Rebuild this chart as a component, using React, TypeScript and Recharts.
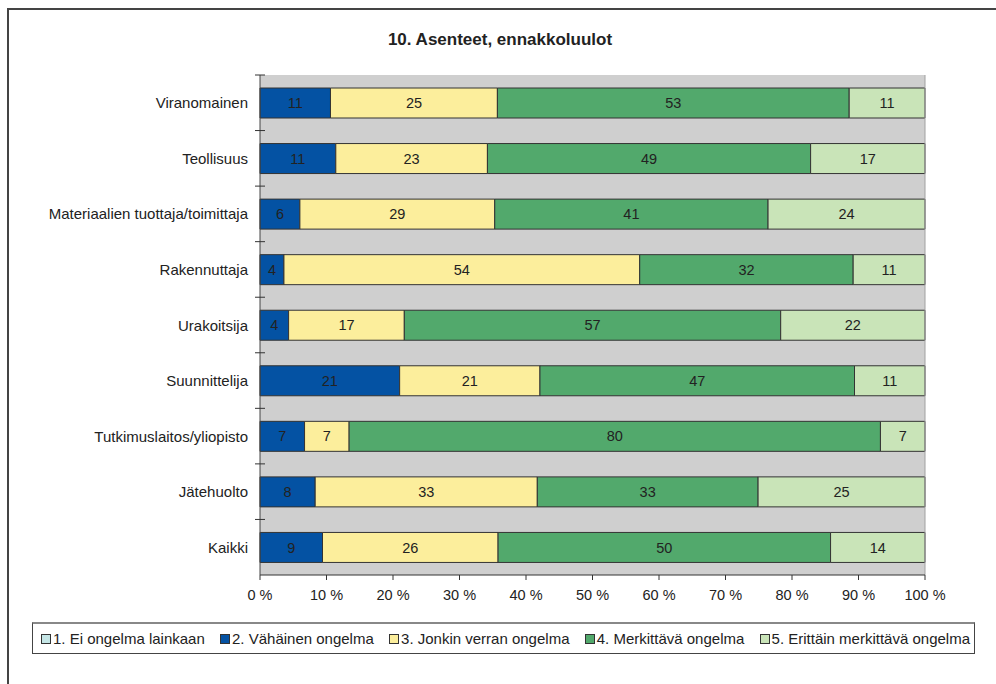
import React from 'react';
import {
  BarChart,
  Bar,
  XAxis,
  YAxis,
  CartesianGrid,
  ReferenceLine,
  LabelList,
} from 'recharts';

const categories = [
  'Viranomainen',
  'Teollisuus',
  'Materiaalien tuottaja/toimittaja',
  'Rakennuttaja',
  'Urakoitsija',
  'Suunnittelija',
  'Tutkimuslaitos/yliopisto',
  'Jätehuolto',
  'Kaikki',
];

// shares in % (labels are the rounded values)
const eiOngelma = [0, 0, 0, 0, 0, 0, 0, 0, 0];
const vahainen = [10.6, 11.4, 6.0, 3.6, 4.3, 21.0, 6.7, 8.3, 9.4];
const jonkin = [25.1, 22.8, 29.3, 53.5, 17.4, 21.1, 6.7, 33.4, 26.4];
const merkittava = [52.9, 48.6, 41.1, 32.1, 56.6, 47.3, 79.9, 33.2, 50.0];
const erittain = [11.4, 17.2, 23.6, 10.8, 21.7, 10.6, 6.7, 25.1, 14.2];

const xTicks = [0, 10, 20, 30, 40, 50, 60, 70, 80, 90, 100];

const series = [
  { key: 'eiOngelma', name: '1. Ei ongelma lainkaan', color: '#C5E6E6', values: eiOngelma },
  { key: 'vahainen', name: '2. Vähäinen ongelma', color: '#0452A3', values: vahainen },
  { key: 'jonkin', name: '3. Jonkin verran ongelma', color: '#FCEE9C', values: jonkin },
  { key: 'merkittava', name: '4. Merkittävä ongelma', color: '#52A96C', values: merkittava },
  { key: 'erittain', name: '5. Erittäin merkittävä ongelma', color: '#C9E4B8', values: erittain },
];

const data = categories.map((name, i) => {
  const row: Record<string, any> = { name };
  series.forEach((s) => {
    row[s.key] = s.values[i];
  });
  return row;
});

const FONT = '"Liberation Sans", Arial, sans-serif';
const W = 996;
const H = 684;
const MARGIN = { top: 75, right: 71, bottom: 79, left: 0 };
const X_AXIS_H = 30;
const BAND = (H - MARGIN.top - MARGIN.bottom - X_AXIS_H) / categories.length;

const CategoryTick = (props: any) => {
  const { x, y, payload } = props;
  return (
    <g>
      <line x1={x - 5} x2={x + 5} y1={y - BAND / 2} y2={y - BAND / 2} stroke="#333" />
      <text
        x={x - 12}
        y={y}
        textAnchor="end"
        dominantBaseline="central"
        fontSize={15}
        fontFamily={FONT}
        fill="#222"
      >
        {payload.value}
      </text>
    </g>
  );
};

export default function App() {
  return (
    <div style={{ position: 'absolute', left: 0, top: 0, width: W, height: H, background: '#fff', overflow: 'hidden' }}>
      {/* outer frame, only top and left edges are in view */}
      <div
        style={{
          position: 'absolute',
          left: 7,
          top: 8,
          width: W,
          height: H,
          borderLeft: '2px solid #444',
          borderTop: '2px solid #444',
        }}
      />
      <div
        style={{
          position: 'absolute',
          left: 0,
          width: 1000,
          top: 30,
          textAlign: 'center',
          fontFamily: FONT,
          fontWeight: 'bold',
          fontSize: 17,
          color: '#222',
        }}
      >
        10. Asenteet, ennakkoluulot
      </div>

      <div style={{ position: 'absolute', left: 0, top: 0 }}>
        <BarChart width={W} height={H} data={data} layout="vertical" margin={MARGIN} barSize={30}>
          <CartesianGrid horizontal={false} vertical={false} fill="#CFCFCF" />
          <XAxis
            type="number"
            domain={[0, 100]}
            ticks={xTicks}
            interval={0}
            height={X_AXIS_H}
            tickFormatter={(v) => `${v} %`}
            axisLine={{ stroke: '#333' }}
            tickLine={{ stroke: '#333' }}
            tickSize={5}
            tickMargin={10}
            tick={{ fontSize: 14.5, fill: '#222', fontFamily: FONT }}
          />
          <YAxis
            type="category"
            dataKey="name"
            width={260}
            axisLine={{ stroke: '#444' }}
            tickLine={false}
            tickSize={0}
            tickMargin={0}
            interval={0}
            tick={<CategoryTick />}
          />
          <ReferenceLine x={100} stroke="#A0A0A0" />
          {series.map((s) => (
            <Bar
              key={s.key}
              dataKey={s.key}
              name={s.name}
              stackId="a"
              fill={s.color}
              stroke="#333"
              strokeWidth={1}
              isAnimationActive={false}
            >
              <LabelList
                dataKey={s.key}
                position="center"
                formatter={(v: any) => (v ? Math.round(v) : '')}
                fill="#222"
                fontSize={14.5}
                fontFamily={FONT}
              />
            </Bar>
          ))}
        </BarChart>
      </div>

      {/* legend */}
      <div
        style={{
          position: 'absolute',
          left: 32,
          top: 622,
          width: 943,
          height: 32,
          boxSizing: 'border-box',
          border: '1px solid #444',
          borderTop: '2px solid #888',
          display: 'flex',
          alignItems: 'center',
          justifyContent: 'space-between',
          padding: '0 4px 0 8px',
          fontFamily: FONT,
          fontSize: 15,
          color: '#222',
          whiteSpace: 'nowrap',
        }}
      >
        {series.map((s) => (
          <div key={s.key} style={{ display: 'flex', alignItems: 'center' }}>
            <span
              style={{
                display: 'inline-block',
                width: 8,
                height: 8,
                background: s.color,
                border: '1px solid #333',
                marginRight: 2,
              }}
            />
            {s.name}
          </div>
        ))}
      </div>
    </div>
  );
}
